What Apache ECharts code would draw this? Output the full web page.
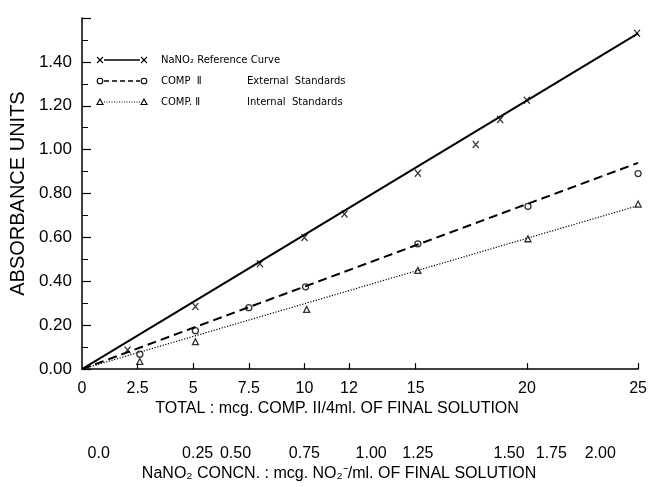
<!DOCTYPE html>
<html>
<head>
<meta charset="utf-8">
<script src="https://cdn.jsdelivr.net/npm/echarts@6/dist/echarts.min.js"></script>
<style>
  html, body { margin: 0; padding: 0; background: #fff; }
  #chart { width: 650px; height: 487px; }
</style>
</head>
<body>
<div id="chart"></div>
<script>
// NaNO2 reference curve (x marks)
const refX = [2.05, 5.1, 8.0, 10.0, 11.8, 15.1, 17.7, 18.8, 20.0, 24.95]
const refY = [0.087, 0.285, 0.48, 0.60, 0.707, 0.893, 1.023, 1.138, 1.225, 1.531]
// COMP II external standards (circles)
const extX = [2.6, 5.1, 7.5, 10.05, 15.1, 20.05, 25.0]
const extY = [0.068, 0.175, 0.28, 0.375, 0.571, 0.742, 0.891]
// COMP II internal standards (triangles)
const intX = [2.6, 5.1, 10.1, 15.1, 20.05, 25.0]
const intY = [0.035, 0.125, 0.272, 0.45, 0.594, 0.752]
// fitted straight lines, drawn from the origin to the end of the axis
const lineX = [0, 25]
const refLineY = [0, 1.53]
const extLineY = [0, 0.94]
const intLineY = [0, 0.745]

// bottom axis: total mcg COMP II
const totalTicks = [0, 2.5, 5, 7.5, 10, 12, 15, 20, 25]
// second scale: NaNO2 concentration, placed against the total scale
const nanoPos = [0.75, 5.2, 6.9, 10.0, 13.0, 15.1, 19.2, 21.1, 23.3]
const nanoLabels = ["0.0", "0.25", "0.50", "0.75", "1.00", "1.25", "1.50", "1.75", "2.00"]

const pairs = (xs, ys) => xs.map((x, i) => [x, ys[i]])

const FONT = "Liberation Sans"
const crossPath = "path://M0 0L10 10M10 0L0 10"

const chart = echarts.init(document.getElementById("chart"), null, {renderer: "canvas"})

// hand drawn legend box in the upper left
const legendRows = [
    {y: 60, dash: null, width: 1.5, mark: "x", a: "NaNO\u2082 Reference Curve", b: ""},
    {y: 81, dash: [5, 3], width: 1.5, mark: "o", a: "COMP  \u2161", b: "External  Standards"},
    {y: 102, dash: [1, 1.5], width: 1, mark: "t", a: "COMP. \u2161", b: "Internal  Standards"}
]
const markEl = (kind, x, y) => {
    if (kind === "x") return {type: "polyline", shape: {points: [[x - 3, y - 3], [x + 3, y + 3]]}, style: {stroke: "#000", lineWidth: 1.1}}
    if (kind === "o") return {type: "circle", shape: {cx: x, cy: y, r: 2.8}, style: {fill: "#fff", stroke: "#000", lineWidth: 1.1}}
    return {type: "polygon", shape: {points: [[x, y - 3], [x + 3, y + 2.5], [x - 3, y + 2.5]]}, style: {fill: "#fff", stroke: "#000", lineWidth: 1.1}}
}
const legendFont = "10px 'DejaVu Sans'"
const legendEls = []
legendRows.forEach(r => {
    [100, 144].forEach(x => {
        legendEls.push(markEl(r.mark, x, r.y))
        if (r.mark === "x") legendEls.push({type: "polyline", shape: {points: [[x + 3, r.y - 3], [x - 3, r.y + 3]]}, style: {stroke: "#000", lineWidth: 1.1}})
    })
    legendEls.push({type: "line", shape: {x1: 104, y1: r.y, x2: 140, y2: r.y}, style: {stroke: "#000", lineWidth: r.width, lineDash: r.dash}})
    legendEls.push({type: "text", x: 161, y: r.y, style: {text: r.a, font: legendFont, fill: "#000", textVerticalAlign: "middle", letterSpacing: 0.6}})
    if (r.b) legendEls.push({type: "text", x: 247, y: r.y, style: {text: r.b, font: legendFont, fill: "#000", textVerticalAlign: "middle", letterSpacing: 0.6}})
})

const option = {
    backgroundColor: "#fff",
    animation: false,
    grid: {left: 77, right: 9, top: 18, bottom: 116, containLabel: false},
    graphic: legendEls,
    xAxis: [
        {
            type: "value", min: 0, max: 25,
            axisLine: {lineStyle: {color: "#000", width: 1.5}},
            axisTick: {show: true, inside: true, length: 6, customValues: totalTicks.slice(1), lineStyle: {color: "#000", width: 1.2}},
            axisLabel: {customValues: totalTicks, margin: 11, color: "#000", fontFamily: FONT, fontSize: 16},
            splitLine: {show: false},
            name: "TOTAL : mcg. COMP. II/4ml. OF FINAL SOLUTION",
            nameLocation: "middle", nameGap: 30,
            nameTextStyle: {color: "#000", fontFamily: FONT, fontSize: 16, padding: [0, 46, 0, 0]}
        },
        {
            type: "value", min: 0, max: 25, position: "bottom", offset: 68,
            axisLine: {show: false}, axisTick: {show: false}, splitLine: {show: false},
            axisLabel: {
                customValues: nanoPos, margin: 8, color: "#000", fontFamily: FONT, fontSize: 16,
                formatter: v => {
                    const i = nanoPos.findIndex(p => Math.abs(p - v) < 1e-6)
                    return i < 0 ? "" : nanoLabels[i]
                }
            },
            name: "NaNO\u2082 CONCN. : mcg. NO\u2082\u207B/ml. OF FINAL SOLUTION",
            nameLocation: "middle", nameGap: 28,
            nameTextStyle: {color: "#000", fontFamily: FONT, fontSize: 16, padding: [0, 42, 0, 0]}
        }
    ],
    yAxis: {
        type: "value", min: 0, max: 1.6, interval: 0.2,
        axisLine: {show: true, lineStyle: {color: "#000", width: 1.5}},
        axisTick: {show: true, inside: true, length: 9, lineStyle: {color: "#000", width: 1.2}},
        minorTick: {show: true, splitNumber: 2, length: 6, lineStyle: {color: "#000", width: 1}},
        axisLabel: {margin: 10, color: "#000", fontFamily: FONT, fontSize: 17, formatter: v => v > 1.5 ? "" : v.toFixed(2)},
        splitLine: {show: false},
        name: "ABSORBANCE UNITS", nameLocation: "middle", nameGap: 50,
        nameTextStyle: {color: "#000", fontFamily: FONT, fontSize: 20}
    },
    series: [
        {type: "line", data: pairs(lineX, refLineY), symbol: "none", lineStyle: {color: "#000", width: 2}},
        {type: "line", data: pairs(lineX, extLineY), symbol: "none", lineStyle: {color: "#000", width: 2, type: [9, 5]}},
        {type: "line", data: pairs(lineX, intLineY), symbol: "none", lineStyle: {color: "#000", width: 1.2, type: [1.2, 1.6]}},
        {type: "scatter", data: pairs(refX, refY), symbol: crossPath, symbolSize: [6, 7], clip: false,
            itemStyle: {color: "rgba(0,0,0,0)", borderColor: "#000", borderWidth: 1.3}},
        {type: "scatter", data: pairs(extX, extY), symbol: "circle", symbolSize: 6, clip: false,
            itemStyle: {color: "#fff", borderColor: "#000", borderWidth: 1.3}},
        {type: "scatter", data: pairs(intX, intY), symbol: "triangle", symbolSize: 6, clip: false,
            itemStyle: {color: "#fff", borderColor: "#000", borderWidth: 1.3}}
    ]
}

chart.setOption(option)
</script>
</body>
</html>
